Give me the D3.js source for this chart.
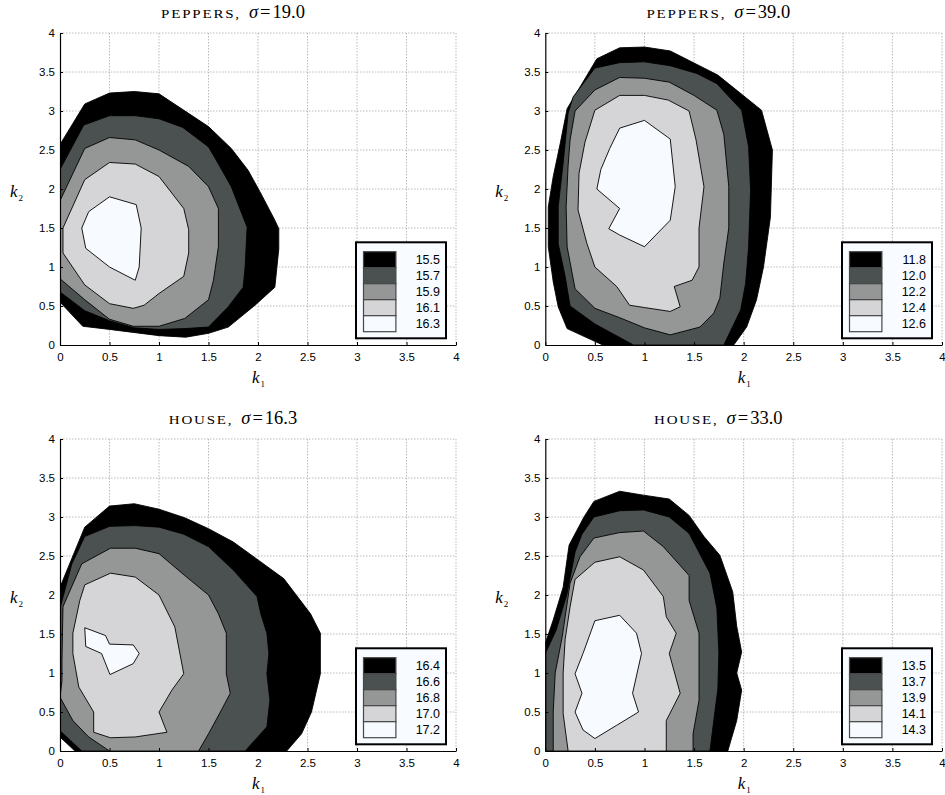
<!DOCTYPE html>
<html><head><meta charset="utf-8">
<script src="https://cdn.jsdelivr.net/npm/d3@7"></script>
<style>body{margin:0;background:#fff;} svg{display:block}</style>
</head><body><svg id="c" width="945" height="795"></svg>
<script>
// ---------------- data ----------------
const kTicks = [0, 0.5, 1, 1.5, 2, 2.5, 3, 3.5, 4];
const imageNames = ["peppers", "peppers", "house", "house"];
const sigmaValues = ["19.0", "39.0", "16.3", "33.0"];

const peppers19Levels = ["15.5", "15.7", "15.9", "16.1", "16.3"];
const peppers39Levels = ["11.8", "12.0", "12.2", "12.4", "12.6"];
const house16Levels   = ["16.4", "16.6", "16.8", "17.0", "17.2"];
const house33Levels   = ["13.5", "13.7", "13.9", "14.1", "14.3"];

// contour boundaries [k1, k2], one polygon per level (outermost first)
const peppers19Contours = [
  [[0,0.55],[0,2.57],[0.25,3.09],[0.5,3.23],[0.75,3.25],[1.0,3.22],[1.5,2.8],[1.73,2.52],[1.9,2.24],[2.03,1.94],[2.17,1.6],[2.21,1.49],[2.21,1.23],[2.17,0.74],[1.97,0.51],[1.7,0.23],[1.5,0.15],[1.27,0.1],[1.0,0.12],[0.5,0.2],[0.23,0.24]],
  [[0,0.68],[0,2.25],[0.24,2.82],[0.5,2.94],[0.76,2.94],[1.0,2.9],[1.24,2.79],[1.5,2.54],[1.56,2.41],[1.73,2.03],[1.89,1.51],[1.87,1.0],[1.85,0.74],[1.7,0.49],[1.5,0.23],[1.26,0.21],[1.0,0.2],[0.75,0.22],[0.5,0.31],[0.25,0.44]],
  [[0,0.85],[0,1.85],[0.25,2.52],[0.5,2.66],[0.76,2.63],[1.0,2.5],[1.3,2.29],[1.5,2.03],[1.6,1.75],[1.6,1.26],[1.55,0.83],[1.5,0.58],[1.26,0.34],[1.0,0.24],[0.74,0.24],[0.5,0.33],[0.25,0.58]],
  [[0.03,1.5],[0.25,2.12],[0.5,2.34],[0.76,2.32],[1.0,2.16],[1.25,1.75],[1.3,1.48],[1.3,1.18],[1.25,0.88],[1.0,0.66],[0.85,0.51],[0.74,0.47],[0.5,0.53],[0.25,0.77],[0.03,1.18]],
  [[0.22,1.5],[0.29,1.71],[0.5,1.9],[0.77,1.8],[0.82,1.5],[0.8,1.0],[0.76,0.83],[0.5,1.0],[0.26,1.24]]
];
const peppers39Contours = [
  [[0.58,0],[0.22,0.21],[0.13,0.49],[0.08,0.81],[0.03,1.26],[0.03,1.77],[0.08,2.16],[0.15,2.58],[0.22,3.03],[0.52,3.67],[0.75,3.81],[1.0,3.82],[1.26,3.77],[1.74,3.46],[2.18,3.01],[2.29,2.5],[2.27,1.64],[2.2,1.0],[2.13,0.58],[2.03,0.23],[1.9,0]],
  [[0.89,0],[0.5,0.27],[0.25,0.5],[0.2,0.88],[0.13,1.3],[0.13,1.77],[0.18,2.33],[0.23,2.97],[0.28,3.18],[0.5,3.55],[0.75,3.62],[1.0,3.63],[1.26,3.58],[1.53,3.48],[1.73,3.35],[1.98,3.01],[2.05,2.54],[2.07,1.99],[2.05,1.26],[2.02,0.79],[1.97,0.45],[1.8,0]],
  [[0.5,3.27],[0.75,3.43],[1.0,3.42],[1.25,3.37],[1.5,3.2],[1.73,3.01],[1.8,2.7],[1.85,2.03],[1.85,1.5],[1.8,1.05],[1.76,0.6],[1.7,0.41],[1.56,0.23],[1.26,0.13],[1.0,0.22],[0.75,0.35],[0.5,0.47],[0.3,0.72],[0.22,1.26],[0.21,1.77],[0.23,2.3],[0.25,2.63],[0.3,3.0]],
  [[0.5,3.01],[0.75,3.2],[1.0,3.2],[1.24,3.14],[1.45,3.0],[1.52,2.63],[1.6,2.03],[1.55,1.5],[1.55,1.0],[1.48,0.83],[1.3,0.75],[1.36,0.49],[1.26,0.43],[1.0,0.48],[0.85,0.51],[0.72,0.75],[0.5,1.0],[0.42,1.3],[0.33,1.73],[0.34,2.2],[0.4,2.6]],
  [[0.75,2.78],[1.0,2.88],[1.26,2.64],[1.31,2.03],[1.26,1.6],[1.0,1.26],[0.75,1.41],[0.64,1.49],[0.75,1.75],[0.52,2.0],[0.56,2.25],[0.65,2.52]]
];
const house16Contours = [
  [[0,0.18],[0,2.1],[0.25,2.87],[0.5,3.14],[0.75,3.17],[1.0,3.1],[1.26,2.99],[1.5,2.85],[1.75,2.68],[2.0,2.45],[2.26,2.21],[2.53,1.76],[2.63,1.51],[2.63,0.99],[2.54,0.5],[2.44,0.22],[2.29,0],[0.15,0]],
  [[0,0.26],[0,1.83],[0.12,2.4],[0.25,2.75],[0.5,2.88],[0.75,2.89],[1.0,2.87],[1.25,2.78],[1.5,2.62],[1.75,2.32],[1.99,1.98],[2.03,1.75],[2.09,1.51],[2.11,1.25],[2.09,0.99],[2.12,0.65],[2.09,0.31],[1.87,0],[0.22,0]],
  [[0,0.69],[0.02,0.9],[0.02,1.16],[0.03,1.85],[0.22,2.4],[0.51,2.6],[0.76,2.6],[1.0,2.53],[1.26,2.25],[1.5,2.0],[1.6,1.76],[1.68,1.51],[1.68,0.99],[1.72,0.74],[1.62,0.5],[1.5,0.22],[1.4,0],[0.5,0],[0.29,0.18],[0.13,0.39]],
  [[0.25,2.13],[0.51,2.28],[0.76,2.23],[1.0,2.0],[1.16,1.59],[1.25,0.99],[1.13,0.78],[1.0,0.5],[1.08,0.24],[0.76,0.18],[0.51,0.17],[0.34,0.24],[0.34,0.5],[0.19,0.82],[0.13,1.25],[0.13,1.51],[0.2,1.93]],
  [[0.25,1.58],[0.46,1.48],[0.5,1.37],[0.74,1.36],[0.8,1.25],[0.74,1.12],[0.505,0.98],[0.42,1.25],[0.26,1.34]]
];
const house33Contours = [
  [[0,0],[0,1.38],[0.08,1.68],[0.18,2.1],[0.24,2.64],[0.39,3.0],[0.49,3.2],[0.75,3.33],[0.99,3.28],[1.25,3.23],[1.45,3.02],[1.6,2.75],[1.76,2.51],[1.89,2.04],[1.93,1.6],[1.98,1.27],[1.93,1.0],[1.98,0.78],[1.93,0.39],[1.84,0]],
  [[0,0],[0,1.25],[0.11,1.55],[0.22,2.02],[0.3,2.55],[0.37,2.78],[0.49,3.0],[0.75,3.08],[0.99,3.09],[1.25,3.0],[1.45,2.79],[1.66,2.28],[1.73,1.83],[1.75,1.25],[1.74,0.8],[1.7,0.4],[1.66,0]],
  [[0.08,0],[0.08,0.5],[0.1,1.0],[0.17,1.46],[0.25,2.15],[0.35,2.49],[0.49,2.73],[0.75,2.8],[0.99,2.82],[1.19,2.62],[1.45,2.25],[1.45,1.93],[1.55,1.51],[1.55,0.65],[1.49,0.22],[1.49,0]],
  [[0.23,0],[0.18,0.48],[0.18,1.0],[0.2,1.43],[0.25,1.85],[0.3,2.2],[0.5,2.42],[0.75,2.49],[0.99,2.32],[1.19,1.98],[1.22,1.72],[1.32,1.51],[1.25,1.25],[1.36,0.74],[1.22,0.39],[1.22,0]],
  [[0.5,1.67],[0.75,1.74],[0.92,1.51],[0.97,1.25],[0.88,0.74],[0.94,0.5],[0.72,0.33],[0.5,0.16],[0.38,0.27],[0.3,0.5],[0.37,0.74],[0.3,0.99],[0.38,1.25]]
];

const levelSets = [peppers19Levels, peppers39Levels, house16Levels, house33Levels];
const contourSets = [peppers19Contours, peppers39Contours, house16Contours, house33Contours];
const fillColors = ["#000000", "#4b5150", "#959797", "#d5d4d6", "#f7fbff"];

// ---------------- layout ----------------
const layout = [
  {x0: 60,    x1: 456, y0: 33,  y1: 345},
  {x0: 545.3, x1: 942, y0: 33,  y1: 345},
  {x0: 60,    x1: 456, y0: 439, y1: 751},
  {x0: 545.3, x1: 942, y0: 439, y1: 751}
];

const svg = d3.select("#c");
const sans = "'Liberation Sans', Arial, Helvetica, sans-serif";
const serif = "'Liberation Serif', 'Times New Roman', serif";

layout.forEach((L, i) => {
  const x = d3.scaleLinear().domain([0, 4]).range([L.x0, L.x1]);
  const y = d3.scaleLinear().domain([0, 4]).range([L.y1, L.y0]);
  const g = svg.append("g");

  // grid
  g.append("g").selectAll("line").data(kTicks.filter(t => t > 0)).join("line")
    .attr("x1", d => x(d)).attr("x2", d => x(d)).attr("y1", L.y0).attr("y2", L.y1)
    .attr("stroke", "#a8a8a8").attr("stroke-width", 0.8).attr("stroke-dasharray", "1.5,1.5");
  g.append("g").selectAll("line").data(kTicks.filter(t => t > 0)).join("line")
    .attr("y1", d => y(d)).attr("y2", d => y(d)).attr("x1", L.x0).attr("x2", L.x1)
    .attr("stroke", "#a8a8a8").attr("stroke-width", 0.8).attr("stroke-dasharray", "1.5,1.5");

  // clip
  const cid = "clip" + i;
  svg.append("defs").append("clipPath").attr("id", cid).append("rect")
    .attr("x", L.x0).attr("y", L.y0).attr("width", L.x1 - L.x0).attr("height", L.y1 - L.y0);

  const line = d3.line().x(d => x(d[0])).y(d => y(d[1])).curve(d3.curveLinearClosed);
  g.append("g").attr("clip-path", `url(#${cid})`)
    .selectAll("path").data(contourSets[i]).join("path")
    .attr("d", line)
    .attr("fill", (d, j) => fillColors[j])
    .attr("stroke", "#000").attr("stroke-width", 0.9).attr("stroke-linejoin", "round");

  // axes
  const xa = d3.axisBottom(x).tickValues(kTicks).tickFormat(d => String(d)).tickSize(-3).tickSizeOuter(0).tickPadding(8);
  const ya = d3.axisLeft(y).tickValues(kTicks).tickFormat(d => String(d)).tickSize(-3).tickSizeOuter(0).tickPadding(5);
  const gx = g.append("g").attr("transform", `translate(0,${L.y1})`).call(xa);
  const gy = g.append("g").attr("transform", `translate(${L.x0},0)`).call(ya);
  [gx, gy].forEach(a => {
    a.selectAll("text").attr("font-family", sans).attr("font-size", 11.5).attr("fill", "#000");
    a.selectAll("line").attr("stroke", "#000");
    a.select(".domain").attr("stroke", "#000").attr("stroke-width", 1.2);
  });

  // axis labels
  const cx = (L.x0 + L.x1) / 2;
  const cy = (L.y0 + L.y1) / 2;
  const xl = g.append("text").attr("x", cx - 6).attr("y", L.y1 + 38)
    .attr("font-family", serif).attr("font-size", 17);
  xl.append("tspan").attr("font-style", "italic").text("k");
  xl.append("tspan").attr("font-size", 9).attr("dy", 4).attr("dx", 1).text("1");
  const yl = g.append("text").attr("x", L.x0 - 50).attr("y", cy + 8)
    .attr("font-family", serif).attr("font-size", 17);
  yl.append("tspan").attr("font-style", "italic").text("k");
  yl.append("tspan").attr("font-size", 9).attr("dy", 4).attr("dx", 1).text("2");

  // title: small-caps image name, then sigma
  const tg = g.append("g");
  const nameG = tg.append("g");
  const nameT = nameG.append("text").attr("font-family", serif).attr("font-size", 12.5)
    .attr("letter-spacing", 1.5).text(imageNames[i].toUpperCase() + ",");
  const nameW = nameT.node().getComputedTextLength() * 1.2;
  const sT = tg.append("text").attr("font-family", serif).attr("font-size", 18.5);
  sT.append("tspan").attr("font-style", "italic").text("σ");
  sT.append("tspan").attr("dx", 2).text("=");
  sT.append("tspan").attr("dx", 2).text(sigmaValues[i]);
  const sW = sT.node().getComputedTextLength() + 4;
  const total = nameW + 8 + sW;
  const start = L.x0 + 173 - total / 2;
  nameG.attr("transform", `translate(${start},${L.y0 - 15}) scale(1.2,1)`);
  sT.attr("x", start + nameW + 8).attr("y", L.y0 - 15);

  // legend
  const lx = L.x1 - 100, ly = L.y1 - 102.7;
  const lg = g.append("g");
  lg.append("rect").attr("x", lx).attr("y", ly).attr("width", 90).attr("height", 96)
    .attr("fill", "#f8fbff").attr("stroke", "#000").attr("stroke-width", 2);
  lg.selectAll("rect.sw").data(levelSets[i]).join("rect").attr("class", "sw")
    .attr("x", lx + 7.5).attr("y", (d, j) => ly + 9.4 + j * 16)
    .attr("width", 32.4).attr("height", 16)
    .attr("fill", (d, j) => fillColors[j]).attr("stroke", "#474747").attr("stroke-width", 1.2);
  lg.selectAll("text").data(levelSets[i]).join("text")
    .attr("x", lx + 84).attr("y", (d, j) => ly + 9.4 + j * 16 + 8)
    .attr("dy", "0.36em").attr("text-anchor", "end")
    .attr("font-family", sans).attr("font-size", 12.5).text(d => d);
});
</script>
</body></html>
